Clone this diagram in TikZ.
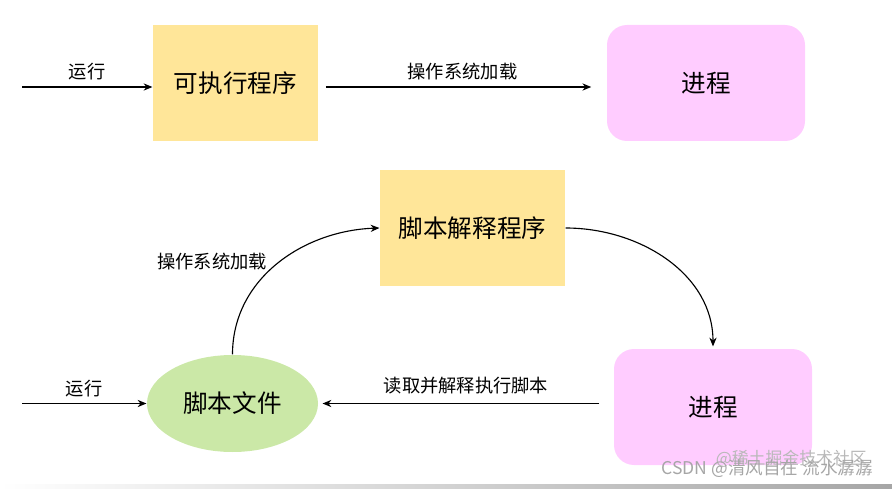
\documentclass[tikz,border=0pt]{standalone}
\usepackage{fontspec}
\setmainfont{Noto Sans CJK SC}
\usetikzlibrary{shapes.geometric,arrows.meta}
\definecolor{progyellow}{RGB}{255,230,153}
\definecolor{procpink}{RGB}{255,204,255}
\definecolor{filegreen}{RGB}{203,232,167}

\begin{document}
\begin{tikzpicture}[
  boxtext/.style={font=\fontsize{17.5}{20}\selectfont},
  prog/.style={boxtext, fill=progyellow, minimum width=4.125cm, minimum height=2.9cm},
  proc/.style={boxtext, fill=procpink, rounded corners=0.5cm, minimum width=4.95cm, minimum height=2.9cm},
  scriptfile/.style={boxtext, ellipse, fill=filegreen, minimum width=4.275cm, minimum height=2.425cm},
  lbl/.style={font=\fontsize{13}{15}\selectfont},
  >={Stealth[length=2.2mm,width=1.8mm]}, line width=0.8pt]
\useasboundingbox (0,0) rectangle (22.3,12.2);
\shade[left color=white, right color=gray!70] (0,0) rectangle (22.3,0.08);
% top row
\node[prog] (exe) at (5.8875, 10.125) {可执行程序};
\node[proc] (proc1) at (17.65, 10.125) {进程};
\coordinate (in1) at (0.55, 10.025);
	\draw[->] (in1) -- (in1 -| exe.west) node[midway, above=1pt, lbl]{运行};
	\draw[->, shorten <=0.18cm, shorten >=0.38cm] ([yshift=-0.1cm]exe.east) -- ([yshift=-0.1cm]proc1.west) node[midway, above=1pt, lbl]{操作系统加载};
% bottom loop
\node[prog, minimum width=4.625cm] (interp) at (11.8125, 6.5) {脚本解释程序};
\node[scriptfile] (file) at (5.8125, 2.1125) {脚本文件};
\node[proc] (proc2) at (17.825, 2.025) {进程};
\coordinate (in2) at (0.55, 2.1125);
	\draw[->] (in2) -- (file.west) node[midway, above=1pt, lbl]{运行};
	\draw[->] (file.north) to[out=90, in=182] (interp.west);
\node[lbl] (load2) at (5.3, 5.65) {操作系统加载};
	\draw[->, shorten >=0.05cm] (interp.east) to[out=0, in=90] (proc2.north);
	\draw[->, shorten <=0.35cm, shorten >=0.1cm] (proc2.west |- file.east) -- (file.east) node[midway, above=3pt, lbl]{读取并解释执行脚本};
% watermark
\node[text=gray!55, font=\fontsize{12}{14}\selectfont, anchor=east] (mark2) at (21.8, 0.72) {@稀土掘金技术社区};
\node[text=gray!70, font=\fontsize{12.5}{14}\selectfont, anchor=east] (mark1) at (21.95, 0.48) {CSDN @清风自在 流水潺潺};
\end{tikzpicture}
\end{document}
